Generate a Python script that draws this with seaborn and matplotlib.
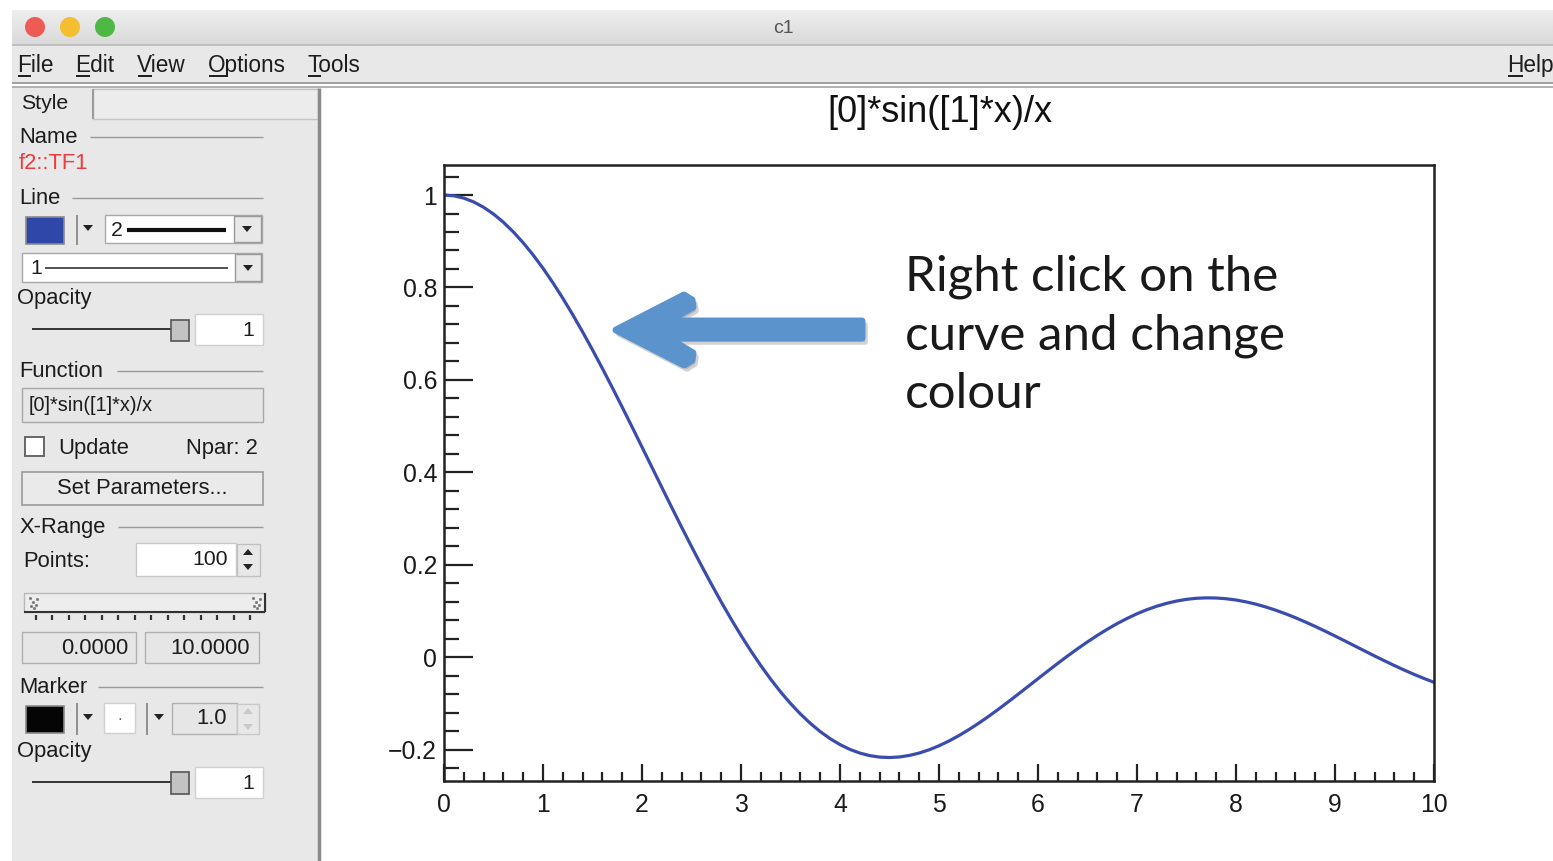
import numpy as np
import pandas as pd
import matplotlib
matplotlib.use("Agg")
import matplotlib.pyplot as plt
import seaborn as sns
from matplotlib.patches import Rectangle, Polygon, Circle
from matplotlib.ticker import MultipleLocator

# ---- function samples: [0]*sin([1]*x)/x with [0]=1, [1]=1, 101 points on 0..10 ----
x_vals = [0.0, 0.1, 0.2, 0.3, 0.4, 0.5, 0.6, 0.7, 0.8, 0.9,
          1.0, 1.1, 1.2, 1.3, 1.4, 1.5, 1.6, 1.7, 1.8, 1.9,
          2.0, 2.1, 2.2, 2.3, 2.4, 2.5, 2.6, 2.7, 2.8, 2.9,
          3.0, 3.1, 3.2, 3.3, 3.4, 3.5, 3.6, 3.7, 3.8, 3.9,
          4.0, 4.1, 4.2, 4.3, 4.4, 4.5, 4.6, 4.7, 4.8, 4.9,
          5.0, 5.1, 5.2, 5.3, 5.4, 5.5, 5.6, 5.7, 5.8, 5.9,
          6.0, 6.1, 6.2, 6.3, 6.4, 6.5, 6.6, 6.7, 6.8, 6.9,
          7.0, 7.1, 7.2, 7.3, 7.4, 7.5, 7.6, 7.7, 7.8, 7.9,
          8.0, 8.1, 8.2, 8.3, 8.4, 8.5, 8.6, 8.7, 8.8, 8.9,
          9.0, 9.1, 9.2, 9.3, 9.4, 9.5, 9.6, 9.7, 9.8, 9.9, 10.0]
y_vals = [1.0000, 0.9983, 0.9933, 0.9851, 0.9735, 0.9589, 0.9411, 0.9203, 0.8967, 0.8704,
          0.8415, 0.8102, 0.7767, 0.7412, 0.7039, 0.6650, 0.6247, 0.5833, 0.5410, 0.4981,
          0.4546, 0.4111, 0.3675, 0.3242, 0.2814, 0.2394, 0.1983, 0.1583, 0.1196, 0.0825,
          0.0470, 0.0134, -0.0182, -0.0478, -0.0752, -0.1002, -0.1229, -0.1432, -0.1610, -0.1764,
          -0.1892, -0.1996, -0.2075, -0.2131, -0.2163, -0.2172, -0.2160, -0.2127, -0.2075, -0.2005,
          -0.1918, -0.1815, -0.1699, -0.1570, -0.1431, -0.1283, -0.1127, -0.0966, -0.0801, -0.0634,
          -0.0466, -0.0299, -0.0134, 0.0027, 0.0182, 0.0331, 0.0472, 0.0604, 0.0727, 0.0838,
          0.0939, 0.1027, 0.1102, 0.1165, 0.1214, 0.1251, 0.1274, 0.1283, 0.1280, 0.1264,
          0.1237, 0.1197, 0.1147, 0.1087, 0.1017, 0.0939, 0.0854, 0.0762, 0.0665, 0.0563,
          0.0458, 0.0351, 0.0242, 0.0134, 0.0026, -0.0079, -0.0182, -0.0280, -0.0374, -0.0462,
          -0.0544]

title_text = "[0]*sin([1]*x)/x"
note_lines = ["Right click on the", "curve and change", "colour"]
menu_items = ["File", "Edit", "View", "Options", "Tools"]
x_ticks = [0, 1, 2, 3, 4, 5, 6, 7, 8, 9, 10]
y_ticks = [-0.2, 0.0, 0.2, 0.4, 0.6, 0.8, 1.0]
y_tick_labels = ["\u22120.2", "0", "0.2", "0.4", "0.6", "0.8", "1"]

W, H = 1553, 861
sns.set_theme(style="white")
plt.rcParams["font.family"] = ["Liberation Sans", "DejaVu Sans"]

fig = plt.figure(figsize=(W / 100, H / 100), dpi=100)
fig.patch.set_facecolor("white")

# Full-window layer in pixel units for the editor chrome
gui = fig.add_axes([0, 0, 1, 1], zorder=0)
gui.set_xlim(0, W)
gui.set_ylim(H, 0)
gui.axis("off")

PANEL = "#e8e8e8"
INK = "#1c1c1c"


def box(x0, y0, x1, y1, fc="white", ec="#a8a8a8", lw=1.0, z=2):
    gui.add_patch(Rectangle((x0, y0), x1 - x0, y1 - y0, facecolor=fc,
                            edgecolor=ec, linewidth=lw, zorder=z))


def hline(x0, x1, y, c="#9a9a9a", lw=1.0, z=3):
    gui.plot([x0, x1], [y, y], color=c, lw=lw, zorder=z, solid_capstyle="butt")


def vline(x, y0, y1, c="#9a9a9a", lw=1.0, z=3):
    gui.plot([x, x], [y0, y1], color=c, lw=lw, zorder=z, solid_capstyle="butt")


def txt(x, y, s, size=15.8, ha="left", color=INK, **kw):
    return gui.text(x, y + 1.5, s, fontsize=size, ha=ha, va="center", color=color,
                    zorder=5, **kw)


def down_tri(cx, cy, s=5, c="#222222"):
    gui.add_patch(Polygon([(cx - s, cy - s * 0.6), (cx + s, cy - s * 0.6), (cx, cy + s * 0.6)],
                          closed=True, facecolor=c, edgecolor="none", zorder=6))


def up_tri(cx, cy, s=5, c="#222222"):
    gui.add_patch(Polygon([(cx - s, cy + s * 0.6), (cx + s, cy + s * 0.6), (cx, cy - s * 0.6)],
                          closed=True, facecolor=c, edgecolor="none", zorder=6))


# title bar with a soft vertical gradient
grad = np.linspace(0.93, 0.85, 50).reshape(-1, 1)
gui.imshow(np.repeat(grad, 2, axis=1), cmap="gray", vmin=0, vmax=1, aspect="auto",
           extent=(12, W, 45, 10), zorder=1)
for cx, col in [(35, "#ee5b55"), (70, "#f5be30"), (105, "#4fb845")]:
    gui.add_patch(Circle((cx, 27), 10, facecolor=col, edgecolor="none", zorder=3))
txt(783, 27, "c1", size=14, ha="center", color="#555555")

# menu bar
box(12, 45, W, 84, fc=PANEL, ec="none", z=1)
hline(12, W, 45, c="#b8b8b8", lw=1.2)
hline(12, W, 83, c="#a0a0a0", lw=1.4)
hline(12, W, 87, c="#b0b0b0", lw=1.4)
renderer = fig.canvas.get_renderer()
menu_x = [17, 75, 137, 208, 307, 1507]
for label, mx in zip(menu_items + ["Help"], menu_x):
    txt(mx, 64, label, size=16.3)
    probe = gui.text(mx, 64, label[0], fontsize=16.3, va="center")
    ext = probe.get_window_extent(renderer)
    probe.remove()
    hline(mx + 0.5, mx + ext.width, 76, c=INK, lw=1.4, z=6)

# left editor panel
box(12, 88, 319, H, fc=PANEL, ec="none", z=1)
vline(319, 88, H, c="#8a8a8a", lw=2.5)
box(93, 89, 318, 119, fc="#ececec", ec="#c4c4c4", z=2)
vline(93, 89, 119, c="#9c9c9c", lw=1.5)
txt(21, 102, "Style", size=15.3)

# Name
txt(19, 136, "Name")
hline(90, 263, 137)
txt(19, 162, "f2::TF1", color="#ec3b40")

# Line
txt(19, 197, "Line")
hline(72, 263, 198)
box(26, 217, 64, 244, fc="#2f47a8", ec="#8a8a8a", lw=1.2)
vline(77, 215, 245, c="#8f8f8f", lw=1.4)
down_tri(88, 228)
box(105, 215, 262, 243, fc="white", ec="#a8a8a8")
txt(111, 229, "2", size=15.3)
hline(127, 226, 230, c="#111111", lw=3)
box(234, 216, 261, 242, fc=PANEL, ec="#9a9a9a")
down_tri(247, 229)
box(22, 253, 262, 282, fc="white", ec="#a8a8a8")
txt(30, 267, "1", size=15.3)
hline(45, 228, 268, c="#333333", lw=1.2)
box(235, 254, 261, 281, fc=PANEL, ec="#9a9a9a")
down_tri(248, 268)

# Opacity
txt(17, 297, "Opacity")
hline(32, 178, 329, c="#333333", lw=1.4)
box(171, 320, 189, 341, fc="#c3c3c3", ec="#555555", lw=1.2, z=4)
box(195, 314, 263, 345, fc="white", ec="#d0d0d0")
txt(254, 329, "1", ha="right", size=15.3)

# Function
txt(19, 370, "Function")
hline(117, 263, 371)
box(22, 388, 263, 422, fc="#e6e6e6", ec="#a8a8a8")
txt(29, 404, "[0]*sin([1]*x)/x", size=14.3)
box(25, 437, 44, 456, fc="white", ec="#666666", lw=1.4)
txt(58, 447, "Update")
txt(186, 447, "Npar: 2")
box(22, 472, 263, 505, fc="#eaeaea", ec="#9a9a9a", lw=1.2)
txt(142, 487, "Set Parameters...", ha="center")

# X-Range
txt(19, 526, "X-Range")
hline(118, 263, 527)
txt(23, 560, "Points:")
box(136, 543, 236, 576, fc="white", ec="#c8c8c8")
txt(228, 558, "100", ha="right", size=15.3)
box(237, 544, 260, 576, fc=PANEL, ec="#c0c0c0")
up_tri(248, 552, s=5)
down_tri(248, 567, s=5)
box(24, 593, 265, 612, fc="#ededed", ec="#b8b8b8")
hline(24, 265, 612, c="#333333", lw=1.5)
vline(265, 593, 612, c="#333333", lw=1.5)
for dx, dy in [(0, 0), (3, 3), (-2, 4), (4, -3), (1, 6), (-3, -4)]:
    gui.plot(33 + dx, 602 + dy, marker="s", ms=1, color="#777777", zorder=6)
    gui.plot(256 + dx, 602 + dy, marker="s", ms=1, color="#777777", zorder=6)
for tx in np.linspace(36, 250, 14):
    vline(tx, 615, 620, c="#333333", lw=1.6)
box(22, 632, 136, 663, fc="#e6e6e6", ec="#b0b0b0")
txt(128, 647, "0.0000", ha="right")
box(145, 632, 259, 663, fc="#e6e6e6", ec="#b0b0b0")
txt(250, 647, "10.0000", ha="right")

# Marker
txt(19, 686, "Marker")
hline(98, 263, 687)
box(26, 706, 64, 733, fc="#050505", ec="#8a8a8a", lw=1.2)
vline(77, 703, 735, c="#8f8f8f", lw=1.4)
down_tri(88, 717)
box(104, 703, 135, 733, fc="white", ec="#d0d0d0")
txt(120, 717, "·", ha="center", size=10, color="#444444")
vline(147, 703, 735, c="#8f8f8f", lw=1.4)
down_tri(159, 717)
box(172, 703, 237, 734, fc="#e6e6e6", ec="#b0b0b0")
txt(227, 717, "1.0", ha="right")
box(237, 704, 259, 734, fc=PANEL, ec="#c8c8c8")
up_tri(248, 711, s=5, c="#c8c8c8")
down_tri(248, 727, s=5, c="#c8c8c8")

# Marker opacity
txt(17, 750, "Opacity")
hline(32, 178, 782, c="#333333", lw=1.4)
box(171, 772, 189, 794, fc="#c3c3c3", ec="#555555", lw=1.2, z=4)
box(195, 767, 263, 798, fc="white", ec="#d0d0d0")
txt(254, 782, "1", ha="right", size=15.3)

# canvas title
gui.text(940, 113, title_text, fontsize=26, ha="center", va="center", color="#111111", zorder=5)

# block arrow pointing at the curve, with a soft drop shadow
arrow_pts = [(616, 330), (684, 295), (692, 300), (693, 307), (668, 321), (862, 321),
             (862, 338), (668, 338), (693, 353), (692, 360), (684, 365)]
shadow = [(px + 3, py + 4) for px, py in arrow_pts]
gui.add_patch(Polygon(shadow, closed=True, facecolor="#7f7f7f", edgecolor="#7f7f7f",
                      linewidth=4, joinstyle="round", alpha=0.35, zorder=3))
gui.add_patch(Polygon(arrow_pts, closed=True, facecolor="#5b93cc", edgecolor="#5b93cc",
                      linewidth=5, joinstyle="round", zorder=4))

gui.text(905, 335, "\n".join(note_lines), fontsize=35.5, ha="left", va="center",
         color="#1a1a1a", linespacing=1.40, family=["Lato", "DejaVu Sans"], zorder=5)

# ---- plot frame ----
ax = fig.add_axes([444 / W, (H - 781) / H, 990 / W, 616 / H], zorder=2)
ax.set_facecolor("none")

df = pd.DataFrame({"x": x_vals, "y": y_vals})
sns.lineplot(data=df, x="x", y="y", ax=ax, color="#3a4cae", linewidth=2.3,
             estimator=None, sort=False)

ax.set_xlim(0, 10)
ax.set_ylim(-0.268, 1.065)
ax.set_xlabel("")
ax.set_ylabel("")
ax.set_xticks(x_ticks)
ax.set_xticklabels([str(t) for t in x_ticks])
ax.set_yticks(y_ticks)
ax.set_yticklabels(y_tick_labels)
ax.xaxis.set_minor_locator(MultipleLocator(0.2))
ax.yaxis.set_minor_locator(MultipleLocator(0.04))
for s in ax.spines.values():
    s.set_visible(True)
    s.set_color("#222222")
    s.set_linewidth(1.8)
ax.tick_params(axis="x", which="major", direction="in", length=12.5, width=1.6,
               colors="#222222", labelsize=17.8, pad=9, top=False, bottom=True)
ax.tick_params(axis="x", which="minor", direction="in", length=6.5, width=1.6,
               colors="#222222", top=False, bottom=True)
ax.tick_params(axis="y", which="major", direction="in", length=21, width=1.6,
               colors="#222222", labelsize=17.8, pad=5, right=False, left=True)
ax.tick_params(axis="y", which="minor", direction="in", length=11, width=1.6,
               colors="#222222", right=False, left=True)
for lab in ax.get_xticklabels() + ax.get_yticklabels():
    lab.set_color("#1a1a1a")

fig.savefig("out.png", dpi=100)
